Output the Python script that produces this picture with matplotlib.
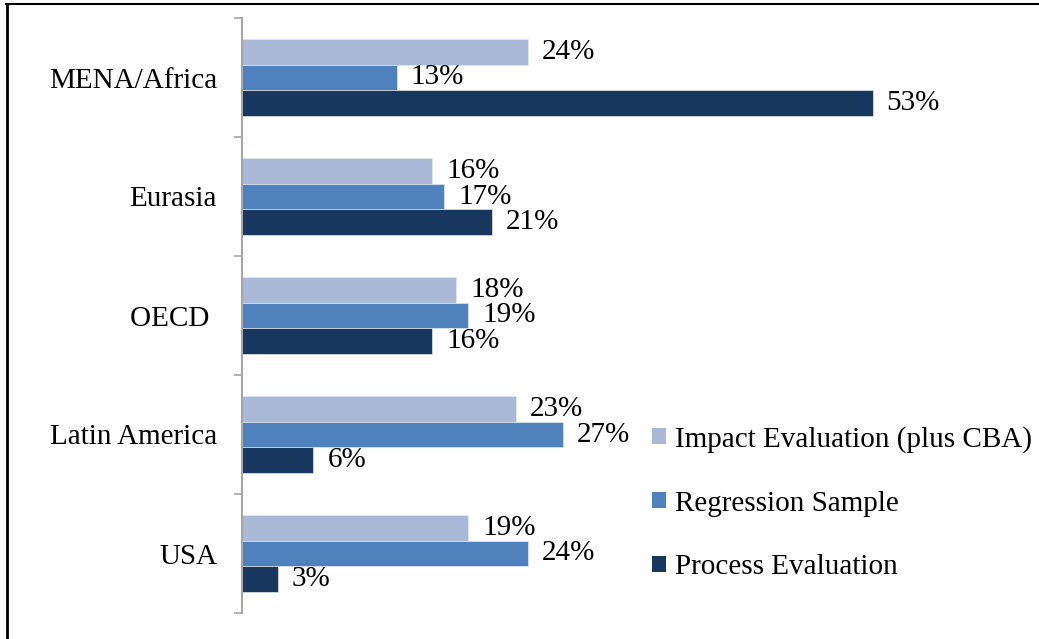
import numpy as np
import matplotlib
matplotlib.use("Agg")
import matplotlib.pyplot as plt
from matplotlib.patches import Patch
from matplotlib.lines import Line2D

plt.rcParams['font.family'] = ['Liberation Serif', 'DejaVu Serif']

# Datos por región (porcentaje de estudios)
regions = ['MENA/Africa', 'Eurasia', 'OECD ', 'Latin America', 'USA']
impact = [24, 16, 18, 23, 19]
regression = [13, 17, 19, 27, 24]
process = [53, 21, 16, 6, 3]

series_names = ['Impact Evaluation (plus CBA)', 'Regression Sample', 'Process Evaluation']
colors = ['#AAB9D7', '#4F81BD', '#17375E']

fig = plt.figure(figsize=(10.39, 6.39), dpi=100)
ax = fig.add_axes([242 / 1039, 26 / 639, 714 / 1039, 595 / 639])

y = np.arange(len(regions))
h = 0.218
for k, (vals, c) in enumerate(zip([impact, regression, process], colors)):
    pos = y + (k - 1) * h
    bars = ax.barh(pos, vals, height=h, color=c, edgecolor='#E4E8EF', linewidth=0.5)
    for b, v in zip(bars, vals):
        ax.annotate(f'{v}%', (b.get_width(), b.get_y() + b.get_height() / 2),
                    xytext=(10, 0), textcoords='offset points',
                    va='center', ha='left', fontsize=21)

ax.set_xlim(0, 60)
ax.set_ylim(len(regions) - 0.5, -0.5)

# Ejes: solo el eje vertical en gris, marcas entre categorías
for s in ['top', 'right', 'bottom']:
    ax.spines[s].set_visible(False)
ax.spines['left'].set_color('#A6A6A6')
ax.spines['left'].set_linewidth(1.5)
ax.set_xticks([])
ax.set_yticks(y)
ax.set_yticklabels(regions, fontsize=21)
ax.tick_params(axis='y', which='major', length=0, pad=18)
ax.set_yticks(np.arange(-0.5, len(regions)), minor=True)
ax.tick_params(axis='y', which='minor', length=6, width=1.2, color='#A6A6A6')

handles = [Patch(facecolor=c, edgecolor='none') for c in colors]
fig.legend(handles, series_names, loc='upper left', bbox_to_anchor=(640 / 1039, 1 - 414 / 639),
           frameon=False, fontsize=21, handlelength=0.5, handleheight=0.5,
           handletextpad=0.3, labelspacing=1.3, borderaxespad=0)

# Marco exterior: línea izquierda y superior
fig.add_artist(Line2D([7 / 1039, 7 / 1039], [0, 1 - 4 / 639], color='black', lw=2))
fig.add_artist(Line2D([6 / 1039, 1], [1 - 4 / 639, 1 - 4 / 639], color='black', lw=1.5))

fig.savefig('out.png', dpi=100)
